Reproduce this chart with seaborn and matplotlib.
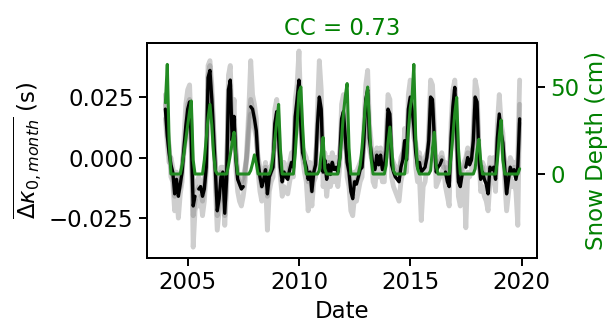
import numpy as np
import pandas as pd
import matplotlib
matplotlib.use("Agg")
import matplotlib.pyplot as plt
import matplotlib.dates as mdates
import seaborn as sns

nan = np.nan

# Monthly values, one row per year (2004-2019), Jan..Dec.
# Network-mean delay anomaly, in milliseconds
mean_ms = [
    [20, 9, 2, -3, -6, -15, -9, -16, -11, -6, 4, 13],
    [20, 23, 7, -20, -16, nan, -13, -12, -16, -13, -4, 33],
    [36, 24, 10, -6, -22, -17, -8, -6, -23, -9, 28, 32],
    [7, 17, 0, -9, -11, -13, -12, nan, nan, nan, 21, 20],
    [16, 11, -2, -8, -12, -9, -5, -15, -8, -6, -4, 14],
    [19, 8, -4, -10, -6, -8, -9, -5, -2, -4, 17, 24],
    [32, 13, 2, -1, -4, -9, -6, -14, -6, -3, 14, 25],
    [20, -6, -1, -9, -3, -7, -2, -5, -4, -6, 0, 16],
    [19, 8, -2, -6, -14, -17, -10, -11, -8, -5, -4, 7],
    [24, 28, 8, 2, -4, -5, 1, -3, 1, -5, -4, 3],
    [20, 18, -3, -6, -8, -9, -10, -4, -1, 7, -1, 20],
    [25, 20, 13, 2, -4, -2, -6, -5, -4, 0, 7, 25],
    [24, 7, -6, -4, -3, -1, nan, -6, -10, -12, 8, 21],
    [29, 10, -10, -12, -7, nan, -4, 0, -3, -1, 7, 25],
    [23, 0, -9, -6, -9, -11, -15, -4, -5, -4, -9, 8],
    [18, 10, 6, -5, -15, -9, -4, -6, -5, -9, -4, 16],
]

# Individual station anomalies, in milliseconds
station_a_ms = [
    [26, 12, 5, -8, -10, -22, -14, -25, -15, -10, 8, 22],
    [28, 30, 10, -37, -22, -18, -20, -16, -24, -18, -6, 38],
    [40, 30, 14, -12, -30, -22, -14, -8, -28, -14, 34, 38],
    [12, 24, -4, -14, -18, -20, -16, -10, 5, 20, 40, 26],
    [22, 16, -6, -14, -18, -15, -10, -30, -14, -10, -8, 20],
    [24, 12, -8, -16, -12, -14, -15, -10, -6, -8, 24, 30],
    [44, 18, 0, -6, -10, -22, -12, -20, -10, -8, 20, 40],
    [28, -12, -6, -16, -8, -12, -8, -10, -8, -12, -4, 22],
    [26, 14, -8, -12, -22, -24, -16, -18, -14, -10, -8, 12],
    [30, 36, 14, 6, -10, -12, -4, -8, -4, -10, -10, 8],
    [26, 24, -8, -12, -14, -16, -18, -10, -6, 12, -6, 26],
    [32, 26, 18, -4, -10, -8, -26, -12, -10, -4, 12, 32],
    [30, 12, -12, -10, -8, -6, -4, -12, -16, -20, 14, 28],
    [32, 14, -16, -20, -12, -8, -29, -6, -8, -6, 12, 32],
    [28, 4, -14, -12, -16, -18, -22, -10, -10, -8, -14, 14],
    [26, 14, 10, -10, -22, -15, -8, -12, -10, -14, -28, 22],
]

station_b_ms = [
    [16, 6, -2, 0, -4, -10, -6, -12, -8, -4, 2, 8],
    [14, 18, 2, -14, -12, -10, -8, -10, -12, -10, -2, 28],
    [30, 20, 6, -2, -16, -12, -4, -4, -18, -6, 22, 28],
    [4, 12, 4, -6, -8, -10, -8, -4, 0, 10, 18, 16],
    [12, 8, 0, -4, -8, -6, -2, -10, -4, -4, 0, 10],
    [16, 4, 0, -6, -2, -4, -6, -2, 2, -2, 12, 20],
    [26, 10, 4, 2, 0, -6, -2, -10, -4, 0, 10, 20],
    [16, -2, 2, -4, 0, -4, 2, -2, 0, -2, 2, 12],
    [14, 4, 2, -2, -8, -12, -6, -6, -4, -2, 0, 4],
    [20, 22, 4, 0, 0, -2, 4, 0, 4, -2, 0, 0],
    [16, 14, 0, -2, -4, -4, -6, 0, 2, 4, 2, 16],
    [20, 16, 8, 6, 0, 2, -2, -2, 0, 2, 4, 20],
    [20, 4, -2, 0, 0, 2, -2, -2, -6, -6, 4, 16],
    [26, 6, -6, -6, -4, -2, 0, 4, 0, 2, 4, 20],
    [20, -2, -6, -2, -4, -6, -10, 0, -2, 0, -6, 4],
    [14, 6, 2, -2, -10, -4, 0, -2, -2, -6, 0, 32],
]

station_c_ms = [
    [22, 10, 4, -4, -8, -16, -8, -14, -12, -4, 4, 10],
    [22, 24, 8, -24, -18, -14, -12, -14, -18, -12, -4, 34],
    [38, 24, 12, -4, -24, -18, -6, -8, -24, -8, 28, 30],
    [6, 16, 2, -8, -10, -12, -12, -6, 2, 14, 24, 20],
    [16, 10, -2, -8, -12, -8, -4, -16, -8, -6, -4, 12],
    [18, 8, -4, -10, -6, -8, -8, -4, -2, -4, 16, 22],
    [30, 14, 2, -2, -4, -10, -6, -14, -6, -2, 14, 24],
    [18, -6, -2, -8, -2, -6, -2, -4, -4, -6, 0, 14],
    [18, 8, -2, -6, -12, -16, -10, -10, -8, -4, -4, 6],
    [22, 26, 8, 2, -2, -4, 2, -2, 2, -4, -2, 4],
    [18, 16, -2, -4, -6, -8, -8, -2, 0, 6, 0, 18],
    [24, 18, 12, 4, -2, 0, -4, -4, -2, 0, 6, 24],
    [22, 6, -4, -2, -2, 0, -4, -4, -8, -10, 8, 20],
    [28, 10, -8, -10, -6, -4, -2, 2, -2, 0, 6, 24],
    [22, 0, -8, -4, -8, -10, -14, -4, -4, -4, -8, 8],
    [16, 10, 6, -4, -14, -8, -4, -6, -4, -8, -6, 14],
]

# Monthly snow depth, in centimetres
snow_cm = [
    [41, 63, 20, 0, 0, 0, 0, 0, 0, 5, 12, 20],
    [28, 36, 42, 8, 0, 0, 0, 0, 0, 8, 20, 32],
    [40, 28, 12, 2, 0, 0, 0, 0, 0, 0, 5, 11],
    [18, 24, 10, 0, 0, 0, 0, 0, 0, 0, 2, 6],
    [11, 6, 0, 0, 0, 0, 0, 0, 0, 3, 10, 20],
    [30, 40, 15, 0, 0, 0, 0, 0, 0, 0, 12, 28],
    [47, 50, 28, 8, 0, 0, 0, 0, 0, 0, 0, 2],
    [12, 21, 3, 0, 0, 0, 0, 0, 0, 0, 8, 20],
    [35, 45, 52, 15, 0, 0, 0, 0, 0, 5, 15, 28],
    [42, 50, 30, 8, 0, 0, 0, 0, 0, 0, 0, 5],
    [18, 27, 15, 2, 0, 0, 0, 0, 0, 0, 10, 25],
    [38, 45, 63, 20, 3, 0, 0, 0, 0, 0, 0, 2],
    [15, 24, 5, 0, 0, 0, 0, 0, 0, 0, 10, 22],
    [35, 44, 15, 0, 0, 0, 0, 0, 0, 0, 0, 3],
    [14, 20, 8, 0, 0, 0, 0, 0, 0, 0, 0, 8],
    [22, 31, 8, 0, 0, 0, 0, 0, 0, 0, 0, 3],
]

title_text = "CC = 0.73"

dates = pd.date_range("2004-01-01", periods=16 * 12, freq="MS")


def flat_seconds(rows):
    return np.asarray(rows, dtype=float).ravel() / 1000.0


FS = 16.5

sns.set_style("ticks", {"axes.edgecolor": "black", "xtick.color": "black",
                        "ytick.color": "black", "text.color": "black",
                        "axes.labelcolor": "black"})
plt.rcParams["font.family"] = ["DejaVu Sans"]
plt.rcParams["font.size"] = FS
plt.rcParams["axes.linewidth"] = 1.4
plt.rcParams["xtick.major.width"] = 1.4
plt.rcParams["ytick.major.width"] = 1.4
plt.rcParams["xtick.major.size"] = 6
plt.rcParams["ytick.major.size"] = 6

fig = plt.figure(figsize=(6.14, 3.36), dpi=100)
ax = fig.add_axes([0.239, 0.232, 0.875 - 0.239, 0.872 - 0.232])

# station curves
for rows in (station_a_ms, station_b_ms, station_c_ms):
    sns.lineplot(x=dates, y=flat_seconds(rows), color="gray", alpha=0.38,
                 linewidth=3.5, ax=ax)

# network mean, broken where months are missing
mean_vals = flat_seconds(mean_ms)
valid = ~np.isnan(mean_vals)
seg_id = np.cumsum(~valid)
mean_df = pd.DataFrame({"date": dates, "value": mean_vals, "seg": seg_id})[valid]
sns.lineplot(data=mean_df, x="date", y="value", units="seg", estimator=None,
             color="black", linewidth=2.4, ax=ax)

ax.set_ylim(-0.0415, 0.0473)
ax.set_yticks([-0.025, 0.0, 0.025])
ax.set_xlim(pd.Timestamp("2003-03-01"), pd.Timestamp("2020-09-15"))
ax.xaxis.set_major_locator(mdates.YearLocator(5))
ax.xaxis.set_major_formatter(mdates.DateFormatter("%Y"))
ax.set_xlabel("Date", fontsize=FS)
ax.set_ylabel(r"$\overline{\Delta\kappa_{0,month}}$ (s)", fontsize=FS)
ax.tick_params(labelsize=FS)
ax.set_title(title_text, color="green", fontsize=FS)

ax2 = ax.twinx()
sns.lineplot(x=dates, y=np.asarray(snow_cm, dtype=float).ravel(),
             color="forestgreen", linewidth=2.2, ax=ax2)
ax2.set_ylim(-48.3, 75.3)
ax2.set_yticks([0, 50])
ax2.tick_params(axis="y", labelcolor="green", labelsize=FS)
ax2.set_ylabel("Snow Depth (cm)", color="green", fontsize=FS)

fig.savefig("out.png", dpi=100)
